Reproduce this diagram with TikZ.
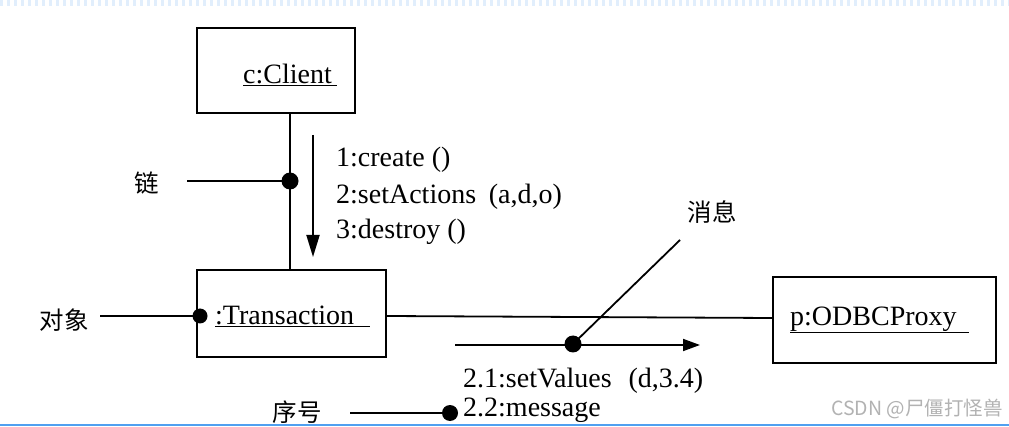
\documentclass[tikz,border=0pt]{standalone}
\usepackage{fontspec}
\setmainfont{Liberation Serif}
\newfontfamily\cjk{Noto Sans CJK SC}
\usetikzlibrary{arrows.meta,calc}
\definecolor{edgeblue}{RGB}{80,160,240}
\definecolor{topband}{RGB}{225,238,252}
\begin{document}
\begin{tikzpicture}[x=1pt,y=-1pt,
  objbox/.style={draw, line width=1.8pt, inner sep=0pt},
  lbl/.style={font=\fontsize{28}{32}\selectfont, inner sep=0pt},
  cn/.style={font=\cjk\fontsize{24.5}{28}\selectfont, inner sep=0pt},
  dotn/.style={circle, fill=black, inner sep=0pt, minimum size=17pt},
  lnk/.style={line width=1.8pt},
  msgdown/.style={line width=1.8pt, -{Triangle[length=22pt,width=13pt]}},
  msgright/.style={line width=1.8pt, -{Triangle[length=17pt,width=12pt]}},
  wmark/.style={font=\cjk\fontsize{19.5}{22}\selectfont, text=gray!60, inner sep=0pt}
]
\useasboundingbox (0,0) rectangle (1009,427);
\clip (0,0) rectangle (1009,427);
\fill[white] (0,0) rectangle (1009,427);
% screenshot edges
\draw[topband, line width=7pt, dash pattern=on 3pt off 4pt] (0,3) -- (1009,3);
\draw[edgeblue, line width=2pt] (0,425) -- (1009,425);

% objects
\node[objbox, minimum width=158pt, minimum height=85pt] (client) at (276,70.5) {};
\node[lbl] (clientt) at (290,75) {\underline{c:Client\hspace{5pt}}};
\node[objbox, minimum width=189pt, minimum height=87pt] (trans) at (291.5,313.5) {};
\node[lbl, anchor=west] (transt) at (215,316) {\underline{:Transaction\hspace{16pt}}};
\node[objbox, minimum width=223pt, minimum height=86pt] (odbc) at (884.5,320) {};
\node[lbl, anchor=west] (odbct) at (790,320) {\underline{p:ODBCProxy\hspace{12pt}}};

% link Client - Transaction
\coordinate (d1) at (290,181);
\draw[lnk] (client.south -| d1) -- (trans.north -| d1);
\node[dotn] (dot1) at (d1) {};
\node[cn] (lian) at (147,183) {链};
\coordinate (l1) at (187,181);
\draw[lnk] (l1) -- (dot1.center);

% messages 1-3
\coordinate (a1s) at (313,135);
\coordinate (a1e) at (313,257);
\draw[msgdown] (a1s) -- (a1e);
\node[lbl, anchor=west] (m1) at (336,160) {1:create ()};
\node[lbl, anchor=west] (m2) at (336,197) {2:setActions\hspace{0.45em}(a,d,o)};
\node[lbl, anchor=west] (m3) at (336,232) {3:destroy ()};

% object label
\node[cn] (duixiang) at (64,320) {对象};
\node[dotn, minimum size=15pt] (dot2) at (200,316) {};
\coordinate (l2) at (100,316);
\draw[lnk] (l2) -- (dot2.center);

% link Transaction - ODBCProxy
\draw[lnk] (trans.east |- 0,316) -- (odbc.west |- 0,318);

% message 2.1
\coordinate (ms) at (455,345);
\coordinate (me) at (700,345);
\draw[msgright] (ms) -- (me);
\node[dotn] (dot3) at (573,344) {};
\coordinate (xp) at (680,240);
\draw[lnk] (dot3.center) -- (xp);
\node[cn] (xiaoxi) at (712,212) {消息};
\node[lbl, anchor=west] (m21) at (463,381) {2.1:setValues\hspace{0.6em}(d,3.4)};

% sequence number
\node[cn] (xuhao) at (297,412) {序号};
\node[dotn, minimum size=16pt] (dot4) at (450,413) {};
\coordinate (l4) at (350,413);
\draw[lnk] (l4) -- (dot4.center);
\node[lbl, anchor=west] (m22) at (463,410) {2.2:message};

% watermark
\node[wmark, anchor=east] (wm) at (1003,409) {CSDN @尸僵打怪兽};
\end{tikzpicture}
\end{document}
